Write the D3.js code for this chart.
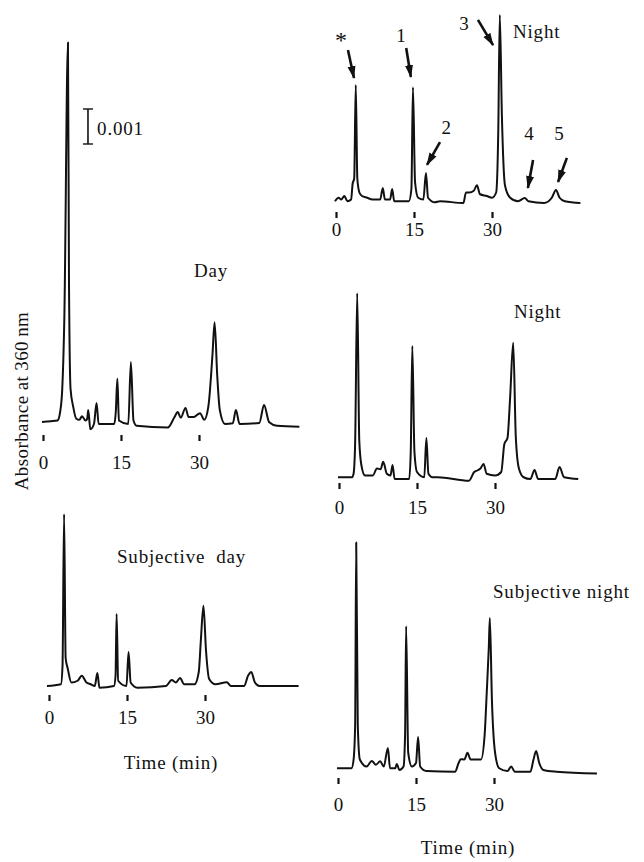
<!DOCTYPE html>
<html>
<head>
<meta charset="utf-8">
<script src="https://cdn.jsdelivr.net/npm/d3@7"></script>
<style>
  body { margin: 0; background: #fff; }
  text { font-family: "Liberation Serif", "Times New Roman", serif; fill: #111; }
</style>
</head>
<body>
<div id="chart"></div>
<script>
// tick labels on the time axis (min)
var tickMin = [0, 15, 30];

// traces: [time (min), absorbance (x 0.001)]
var nightTop = [[-0.2,0.05],[0.5,0.15],[1.0,0.1],[1.6,0.2],[2.2,0.05],[2.9,0.1],[3.2,0.55],[3.5,0.7],[3.8,3.37],[4.1,0.7],[4.5,0.3],[5.0,0.2],[6.0,0.15],[7.0,0.1],[8.5,0.1],[9.0,0.43],[9.4,0.1],[10.4,0.1],[10.8,0.4],[11.2,0.05],[14.0,0.05],[14.5,0.4],[14.8,3.31],[15.2,0.6],[15.8,0.15],[16.8,0.1],[17.3,0.86],[17.7,0.15],[19.0,0.02],[20.0,0.05],[24.5,0.0],[25.0,0.3],[25.6,0.3],[26.5,0.35],[27.1,0.51],[27.7,0.25],[29.0,0.2],[30.0,0.15],[30.8,0.3],[31.2,2.0],[31.5,5.37],[31.9,2.5],[32.5,0.5],[33.5,0.15],[35.0,0.05],[36.3,0.14],[37.0,0.05],[40.0,0.0],[41.5,0.15],[42.3,0.37],[43.0,0.15],[44.0,0.05],[47.0,0.0]];

var day = [[-0.2,0.06],[1.5,0.08],[2.8,0.1],[3.3,0.35],[3.7,1.0],[4.1,3.0],[4.8,10.9],[5.0,4.0],[5.3,1.0],[5.8,0.5],[6.4,0.15],[7.0,0.12],[7.5,0.22],[8.2,0.1],[8.5,0.15],[8.7,0.4],[9.1,-0.15],[9.8,0.0],[10.3,0.6],[10.7,0.0],[13.7,0.0],[14.0,0.35],[14.3,1.29],[14.6,0.1],[16.4,0.0],[16.9,1.77],[17.4,0.1],[18.0,-0.05],[24.0,-0.1],[25.3,0.2],[25.9,0.34],[26.5,0.18],[27.4,0.46],[28.0,0.2],[29.0,0.2],[30.2,0.31],[31.0,0.12],[31.8,0.5],[32.6,2.0],[33.0,2.91],[33.5,1.4],[34.0,0.4],[35.0,0.0],[36.5,0.02],[37.1,0.4],[37.8,0.0],[41.6,0.03],[42.5,0.54],[43.5,0.05],[45.0,-0.05],[49.3,-0.08]];

var night = [[-0.2,0.05],[2.5,0.05],[2.8,0.15],[3.1,1.0],[3.5,5.31],[3.9,1.1],[4.3,0.4],[5.0,0.1],[6.5,0.1],[7.3,0.3],[8.0,0.28],[8.5,0.49],[9.2,0.15],[9.9,0.1],[10.3,0.4],[10.7,0.0],[13.5,0.0],[13.8,0.8],[14.1,3.8],[14.5,0.8],[15.0,0.2],[16.4,0.05],[16.8,1.17],[17.2,0.15],[18.0,0.05],[19.0,0.05],[25.0,-0.05],[26.0,0.2],[26.7,0.25],[27.2,0.3],[27.8,0.43],[28.4,0.15],[30.0,0.1],[31.2,0.2],[31.8,1.0],[32.4,1.17],[32.9,2.3],[33.5,3.89],[34.0,1.2],[34.6,0.3],[35.5,0.05],[36.8,0.0],[37.6,0.26],[38.3,0.0],[41.6,0.0],[42.4,0.34],[43.3,0.05],[46.0,0.0]];

var subjDay = [[-0.4,0.0],[2.3,0.05],[2.6,0.57],[2.9,4.91],[3.2,0.8],[3.6,0.5],[4.3,0.1],[5.5,0.15],[6.3,0.29],[7.2,0.1],[8.0,0.05],[8.8,0.0],[9.3,0.37],[9.7,-0.05],[12.5,0.0],[12.8,0.3],[13.0,2.06],[13.3,0.15],[14.9,0.0],[15.3,0.97],[15.7,0.1],[17.0,-0.05],[22.5,0.0],[23.6,0.17],[24.4,0.1],[25.2,0.23],[26.0,0.05],[28.0,0.05],[28.8,0.4],[29.2,1.3],[29.7,2.29],[30.2,1.0],[30.8,0.2],[32.0,0.05],[34.2,0.11],[35.0,0.0],[37.5,0.0],[38.3,0.3],[38.9,0.4],[39.6,0.1],[40.5,0.0],[48.0,0.0]];

var subjNight = [[-0.2,0.05],[2.6,0.05],[3.0,0.3],[3.3,1.3],[3.5,6.5],[3.8,1.3],[4.2,0.3],[5.5,0.1],[6.5,0.26],[7.3,0.15],[8.1,0.25],[8.8,0.1],[9.6,0.63],[10.0,0.05],[11.0,0.05],[11.3,0.17],[11.8,0.0],[12.6,0.1],[12.9,1.0],[13.1,4.11],[13.5,0.5],[14.2,0.1],[15.0,0.2],[15.4,0.94],[15.8,0.1],[17.0,-0.03],[22.5,-0.05],[23.2,0.2],[23.6,0.31],[24.3,0.3],[24.9,0.49],[25.5,0.3],[27.5,0.3],[28.2,1.0],[28.6,2.2],[29.0,3.5],[29.2,4.34],[29.6,2.0],[30.2,0.5],[31.0,0.05],[32.6,-0.03],[33.3,0.1],[34.0,-0.05],[37.0,-0.05],[37.6,0.3],[38.1,0.54],[38.7,0.2],[39.5,0.0],[42.0,-0.05],[49.8,-0.1]];

// peak labels on the top trace: text, label pos, arrow tail, arrow tip (time, absorbance)
var peakNames = ["*", "1", "2", "3", "4", "5"];
var peakLabelAt = [[0.96,4.66],[12.5,4.8],[21.2,2.17],[24.6,5.14],[37.1,2.0],[42.9,2.0]];
var peakArrowFrom = [[2.3,4.37],[13.5,4.43],[20.0,1.74],[27.3,5.23],[37.9,1.23],[44.4,1.29]];
var peakArrowTo = [[3.46,3.57],[14.4,3.6],[17.5,1.09],[30.2,4.51],[36.9,0.43],[42.7,0.6]];

// scale bar: 0.001 absorbance
var scaleBar = 1;

var svg = d3.select("#chart").append("svg")
    .attr("width", 644)
    .attr("height", 862);

svg.append("rect").attr("width", 644).attr("height", 862).attr("fill", "#fff");

svg.append("defs").append("marker")
    .attr("id", "head")
    .attr("markerUnits", "userSpaceOnUse")
    .attr("markerWidth", 14).attr("markerHeight", 10)
    .attr("refX", 12).attr("refY", 5)
    .attr("orient", "auto")
  .append("path")
    .attr("d", "M0,1 L13,5 L0,9 Z")
    .attr("fill", "#111");

var pxPerMin = 78 / 15;
var pxPerUnit = 35;

// one panel per chromatogram; x0 = pixel of time 0, y0 = pixel of baseline
var panels = [
  {data: nightTop, x0: 336, y0: 203, tickY: 212, pad: 4.5, label: "Night", lx: 513, ly: 38},
  {data: day, x0: 43, y0: 424, tickY: 435, pad: 14.5, label: "Day", lx: 194, ly: 277},
  {data: night, x0: 339, y0: 479, tickY: 483, pad: 11.5, label: "Night", lx: 514, ly: 318},
  {data: subjDay, x0: 49, y0: 686, tickY: 695, pad: 9.5, label: "Subjective  day", lx: 117, ly: 563},
  {data: subjNight, x0: 338, y0: 770, tickY: 778, pad: 13.5, label: "Subjective night", lx: 493, ly: 598}
];

panels.forEach(function(p) {
    p.x = d3.scaleLinear().domain([0, 15]).range([p.x0, p.x0 + 15 * pxPerMin]);
    p.y = d3.scaleLinear().domain([0, 1]).range([p.y0, p.y0 - pxPerUnit]);

    var line = d3.line()
        .x(function(d) { return p.x(d[0]); })
        .y(function(d) { return p.y(d[1]); })
        .curve(d3.curveMonotoneX);

    svg.append("path")
        .datum(p.data)
        .attr("d", line)
        .attr("fill", "none")
        .attr("stroke", "#111")
        .attr("stroke-width", 2)
        .attr("stroke-linejoin", "round");

    // detached time axis: short ticks, no domain line
    var axis = svg.append("g")
        .attr("transform", "translate(0," + p.tickY + ")")
        .call(d3.axisBottom(p.x).tickValues(tickMin).tickSize(6).tickPadding(p.pad)
              .tickFormat(d3.format("d")));
    axis.select(".domain").remove();
    axis.selectAll(".tick line").attr("stroke", "#111").attr("stroke-width", 2.2);
    axis.selectAll(".tick text")
        .style("font-family", "'Liberation Serif', serif")
        .style("font-size", "19px")
        .attr("fill", "#111");

    svg.append("text")
        .attr("x", p.lx).attr("y", p.ly)
        .style("font-size", "19px")
        .style("letter-spacing", "0.8px")
        .style("white-space", "pre")
        .text(p.label);
});

// peak arrows on the top night trace
var topP = panels[0];
peakNames.forEach(function(name, i) {
    svg.append("line")
        .attr("x1", topP.x(peakArrowFrom[i][0])).attr("y1", topP.y(peakArrowFrom[i][1]))
        .attr("x2", topP.x(peakArrowTo[i][0])).attr("y2", topP.y(peakArrowTo[i][1]))
        .attr("stroke", "#111")
        .attr("stroke-width", 2.6)
        .attr("marker-end", "url(#head)");
    svg.append("text")
        .attr("x", topP.x(peakLabelAt[i][0])).attr("y", topP.y(peakLabelAt[i][1]))
        .attr("dy", "0.35em")
        .attr("text-anchor", "middle")
        .style("font-size", name === "*" ? "24px" : "19px")
        .text(name);
});

// 0.001 scale bar on the day panel
var dayP = panels[1];
var barX = dayP.x(8.65);
svg.append("line")
    .attr("x1", barX).attr("x2", barX)
    .attr("y1", dayP.y(8)).attr("y2", dayP.y(8 + scaleBar))
    .attr("stroke", "#111").attr("stroke-width", 1.6);
[8, 8 + scaleBar].forEach(function(v) {
    svg.append("line")
        .attr("x1", barX - 5).attr("x2", barX + 5)
        .attr("y1", dayP.y(v)).attr("y2", dayP.y(v))
        .attr("stroke", "#111").attr("stroke-width", 1.4);
});
svg.append("text")
    .attr("x", dayP.x(10.4)).attr("y", dayP.y(8.26))
    .style("font-size", "19px")
    .style("letter-spacing", "0.8px")
    .text("0.001");

// axis titles
svg.append("text")
    .attr("transform", "translate(28,401) rotate(-90)")
    .attr("text-anchor", "middle")
    .style("font-size", "19px")
    .style("letter-spacing", "0.4px")
    .text("Absorbance at 360\u2009nm");

svg.append("text")
    .attr("x", 171).attr("y", 769)
    .attr("text-anchor", "middle")
    .style("font-size", "19px")
    .style("letter-spacing", "0.8px")
    .text("Time (min)");

svg.append("text")
    .attr("x", 468).attr("y", 854)
    .attr("text-anchor", "middle")
    .style("font-size", "19px")
    .style("letter-spacing", "0.8px")
    .text("Time (min)");
</script>
</body>
</html>
